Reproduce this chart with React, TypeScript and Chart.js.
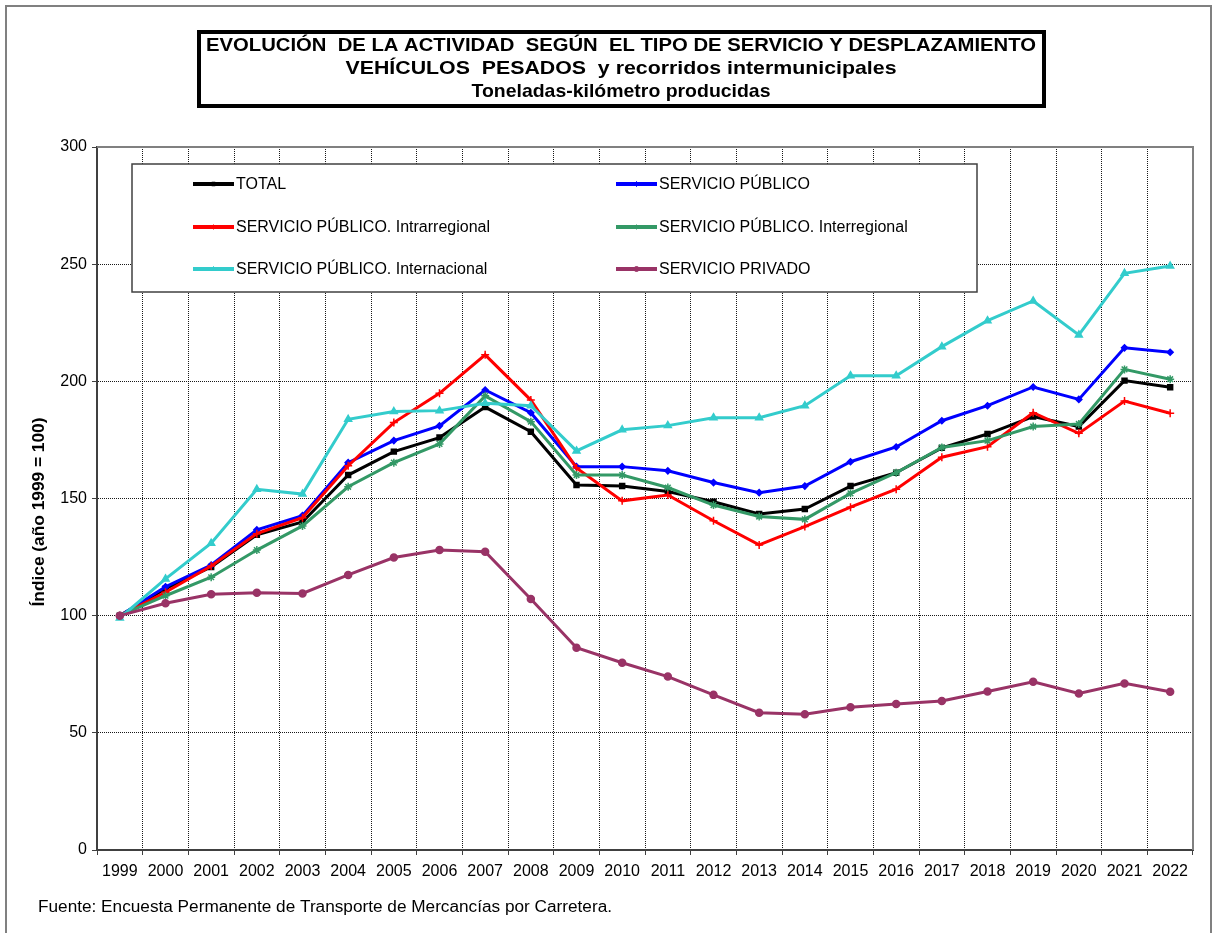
import React, { useEffect, useRef } from 'react';
import { Chart, registerables } from 'chart.js';
import { drawPoint } from 'chart.js/helpers';

Chart.register(...registerables);

const FONT = '"Liberation Sans", Arial, sans-serif';

const years = ['1999', '2000', '2001', '2002', '2003', '2004', '2005', '2006', '2007', '2008', '2009', '2010', '2011', '2012', '2013', '2014', '2015', '2016', '2017', '2018', '2019', '2020', '2021', '2022'];

const totalValues = [100, 111.5, 120.8, 134.5, 140, 160, 170, 176, 189, 178.5, 155.8, 155.3, 153, 148.6, 143.4, 145.5, 155.3, 161, 171.6, 177.5, 185, 180.7, 200.3, 197.5];
const publicoValues = [100, 112.3, 121.6, 136.6, 142.7, 165.3, 174.7, 181, 196.3, 186.6, 163.6, 163.6, 161.8, 156.8, 152.5, 155.3, 165.7, 172, 183.2, 189.6, 197.6, 192.3, 214.3, 212.4];
const intraValues = [100, 110, 121.2, 135, 141.8, 164, 182.4, 194.9, 211.3, 192, 163, 149, 151.5, 140.5, 130.2, 138, 146.3, 154, 167.6, 172.1, 186.6, 177.8, 191.6, 186.4];
const interValues = [100, 108.5, 116.4, 128, 138.3, 155, 165.3, 173.3, 193.8, 182.8, 160, 160, 154.7, 147.2, 142.3, 141.1, 152.2, 161, 171.8, 174.7, 180.7, 181.8, 205.1, 200.9];
const internacionalValues = [99, 115.7, 130.9, 153.9, 151.9, 183.8, 187.1, 187.5, 190.6, 189.6, 170.3, 179.3, 181.1, 184.5, 184.5, 189.6, 202.4, 202.4, 214.8, 225.9, 234.3, 219.8, 246.1, 249.2];
const privadoValues = [100, 105.3, 109.1, 109.8, 109.5, 117.4, 124.8, 128, 127.3, 107.1, 86.3, 79.9, 74, 66.2, 58.6, 57.9, 60.9, 62.3, 63.6, 67.6, 71.8, 66.8, 71.1, 67.5];

const seriesLabels = ['TOTAL', 'SERVICIO PÚBLICO', 'SERVICIO PÚBLICO. Intrarregional', 'SERVICIO PÚBLICO. Interregional', 'SERVICIO PÚBLICO. Internacional', 'SERVICIO PRIVADO'];
const seriesColors = ['#000000', '#0000FF', '#FF0000', '#339966', '#33CCCC', '#993366'];
const seriesPointStyles = ['rect', 'rectRot', 'cross', 'star', 'triangle', 'circle'];
const seriesPointRadius = [3.5, 3, 4, 4, 4, 3.5];
const seriesValues = [totalValues, publicoValues, intraValues, interValues, internacionalValues, privadoValues];

const yTicks = [0, 50, 100, 150, 200, 250, 300];

const titleLines = [
  'EVOLUCIÓN  DE LA ACTIVIDAD  SEGÚN  EL TIPO DE SERVICIO Y DESPLAZAMIENTO',
  'VEHÍCULOS  PESADOS  y recorridos intermunicipales',
  'Toneladas-kilómetro producidas',
];
const yTitle = 'Índice (año 1999 = 100)';
const footerText = 'Fuente: Encuesta Permanente de Transporte de Mercancías por Carretera.';

function fitText(ctx: CanvasRenderingContext2D, text: string, x: number, y: number, width: number, align: 'left' | 'center') {
  const w = ctx.measureText(text).width;
  const s = width / w;
  ctx.save();
  ctx.textAlign = 'left';
  const left = align === 'center' ? x - width / 2 : x;
  ctx.translate(left, y);
  ctx.scale(s, 1);
  ctx.fillText(text, 0, 0);
  ctx.restore();
}

const decorPlugin = {
  id: 'decor',
  beforeDraw(chart: any) {
    const ctx: CanvasRenderingContext2D = chart.ctx;
    ctx.save();
    ctx.fillStyle = '#ffffff';
    ctx.fillRect(0, 0, chart.width, chart.height);
    // outer frame
    ctx.strokeStyle = '#808080';
    ctx.lineWidth = 2;
    ctx.beginPath();
    ctx.moveTo(6, 940);
    ctx.lineTo(6, 6);
    ctx.lineTo(1211, 6);
    ctx.lineTo(1211, 940);
    ctx.stroke();
    // title box
    ctx.strokeStyle = '#000000';
    ctx.lineWidth = 4;
    ctx.strokeRect(199, 32, 845, 74);
    ctx.fillStyle = '#000000';
    ctx.textBaseline = 'middle';
    ctx.font = `bold 19px ${FONT}`;
    const centers = [46, 69, 92];
    const widths = [830, 551, 299];
    titleLines.forEach((t, i) => fitText(ctx, t, 621, centers[i], widths[i], 'center'));
    // y title
    ctx.save();
    ctx.translate(40, 512);
    ctx.rotate(-Math.PI / 2);
    ctx.font = `bold 16px ${FONT}`;
    fitText(ctx, yTitle, 0, 0, 189, 'center');
    ctx.restore();
    // footer
    ctx.font = `16px ${FONT}`;
    fitText(ctx, footerText, 38, 908, 574, 'left');
    ctx.restore();
  },
  beforeDatasetsDraw(chart: any) {
    const ctx: CanvasRenderingContext2D = chart.ctx;
    const a = chart.chartArea;
    ctx.save();
    ctx.strokeStyle = '#808080';
    ctx.lineWidth = 2;
    ctx.beginPath();
    ctx.moveTo(a.left, a.top);
    ctx.lineTo(a.right, a.top);
    ctx.lineTo(a.right, a.bottom);
    ctx.stroke();
    ctx.restore();
  },
  afterDatasetsDraw(chart: any) {
    const ctx: CanvasRenderingContext2D = chart.ctx;
    ctx.save();
    ctx.fillStyle = '#ffffff';
    ctx.fillRect(132, 164, 845, 128);
    ctx.strokeStyle = '#404040';
    ctx.lineWidth = 1.5;
    ctx.strokeRect(132, 164, 845, 128);
    const rows = [184, 227, 269];
    const cols = [193, 616];
    ctx.font = `16px ${FONT}`;
    ctx.textBaseline = 'middle';
    ctx.textAlign = 'left';
    chart.data.datasets.forEach((ds: any, i: number) => {
      const col = cols[i % 2];
      const row = rows[Math.floor(i / 2)];
      ctx.strokeStyle = ds.borderColor;
      ctx.lineWidth = 4;
      ctx.beginPath();
      ctx.moveTo(col, row);
      ctx.lineTo(col + 41, row);
      ctx.stroke();
      ctx.fillStyle = ds.borderColor;
      ctx.strokeStyle = ds.borderColor;
      ctx.lineWidth = 1;
      drawPoint(ctx, {
        pointStyle: ds.pointStyle,
        radius: 2.5,
        borderWidth: 1,
        rotation: 0,
      } as any, col + 20.5, row);
      ctx.fillStyle = '#000000';
      ctx.fillText(ds.label, col + 43, row + 1);
    });
    ctx.restore();
  },
};

export default function App() {
  const ref = useRef<HTMLCanvasElement>(null);
  useEffect(() => {
    if (!ref.current) return;
    const datasets = seriesLabels.map((label, i) => ({
      label,
      data: seriesValues[i],
      borderColor: seriesColors[i],
      backgroundColor: seriesColors[i],
      pointStyle: seriesPointStyles[i],
      pointRadius: seriesPointRadius[i],
      pointBorderWidth: 1.5,
      pointBorderColor: seriesColors[i],
      pointBackgroundColor: seriesColors[i],
      borderWidth: 3,
      tension: 0,
      fill: false,
      order: seriesLabels.length - i,
    }));
    const chart = new Chart(ref.current, {
      type: 'line',
      data: { labels: years, datasets },
      plugins: [decorPlugin],
      options: {
        animation: false,
        responsive: false,
        devicePixelRatio: 1,
        layout: { padding: { left: 0, top: 147, right: 23, bottom: 0 } },
        plugins: { legend: { display: false }, title: { display: false }, tooltip: { enabled: false } },
        scales: {
          x: {
            type: 'category',
            offset: true,
            grid: { offset: true, color: 'rgba(0,0,0,0.9)', lineWidth: 1, drawTicks: true, tickLength: 5, tickColor: '#404040', tickWidth: 1 },
            border: { display: true, color: '#404040', width: 2, dash: [1, 1] },
            ticks: { color: '#000000', font: { family: FONT, size: 16 }, padding: 7, maxRotation: 0, autoSkip: false },
            afterFit: (s: any) => { s.height = 83; },
          },
          y: {
            min: 0,
            max: 300,
            afterBuildTicks: (s: any) => { s.ticks = yTicks.map((v) => ({ value: v })); },
            grid: { color: 'rgba(0,0,0,0.9)', lineWidth: 1, drawTicks: true, tickLength: 5, tickColor: '#404040', tickWidth: 1 },
            border: { display: true, color: '#404040', width: 2, dash: [1, 1] },
            ticks: { color: '#000000', font: { family: FONT, size: 16 }, padding: 5 },
            afterFit: (s: any) => { s.width = 97; },
          },
        },
      } as any,
    });
    return () => chart.destroy();
  }, []);
  return (
    <div style={{ position: 'absolute', left: 0, top: 0, width: 1216, height: 933 }}>
      <canvas ref={ref} width={1216} height={933} style={{ width: 1216, height: 933, display: 'block' }} />
    </div>
  );
}
